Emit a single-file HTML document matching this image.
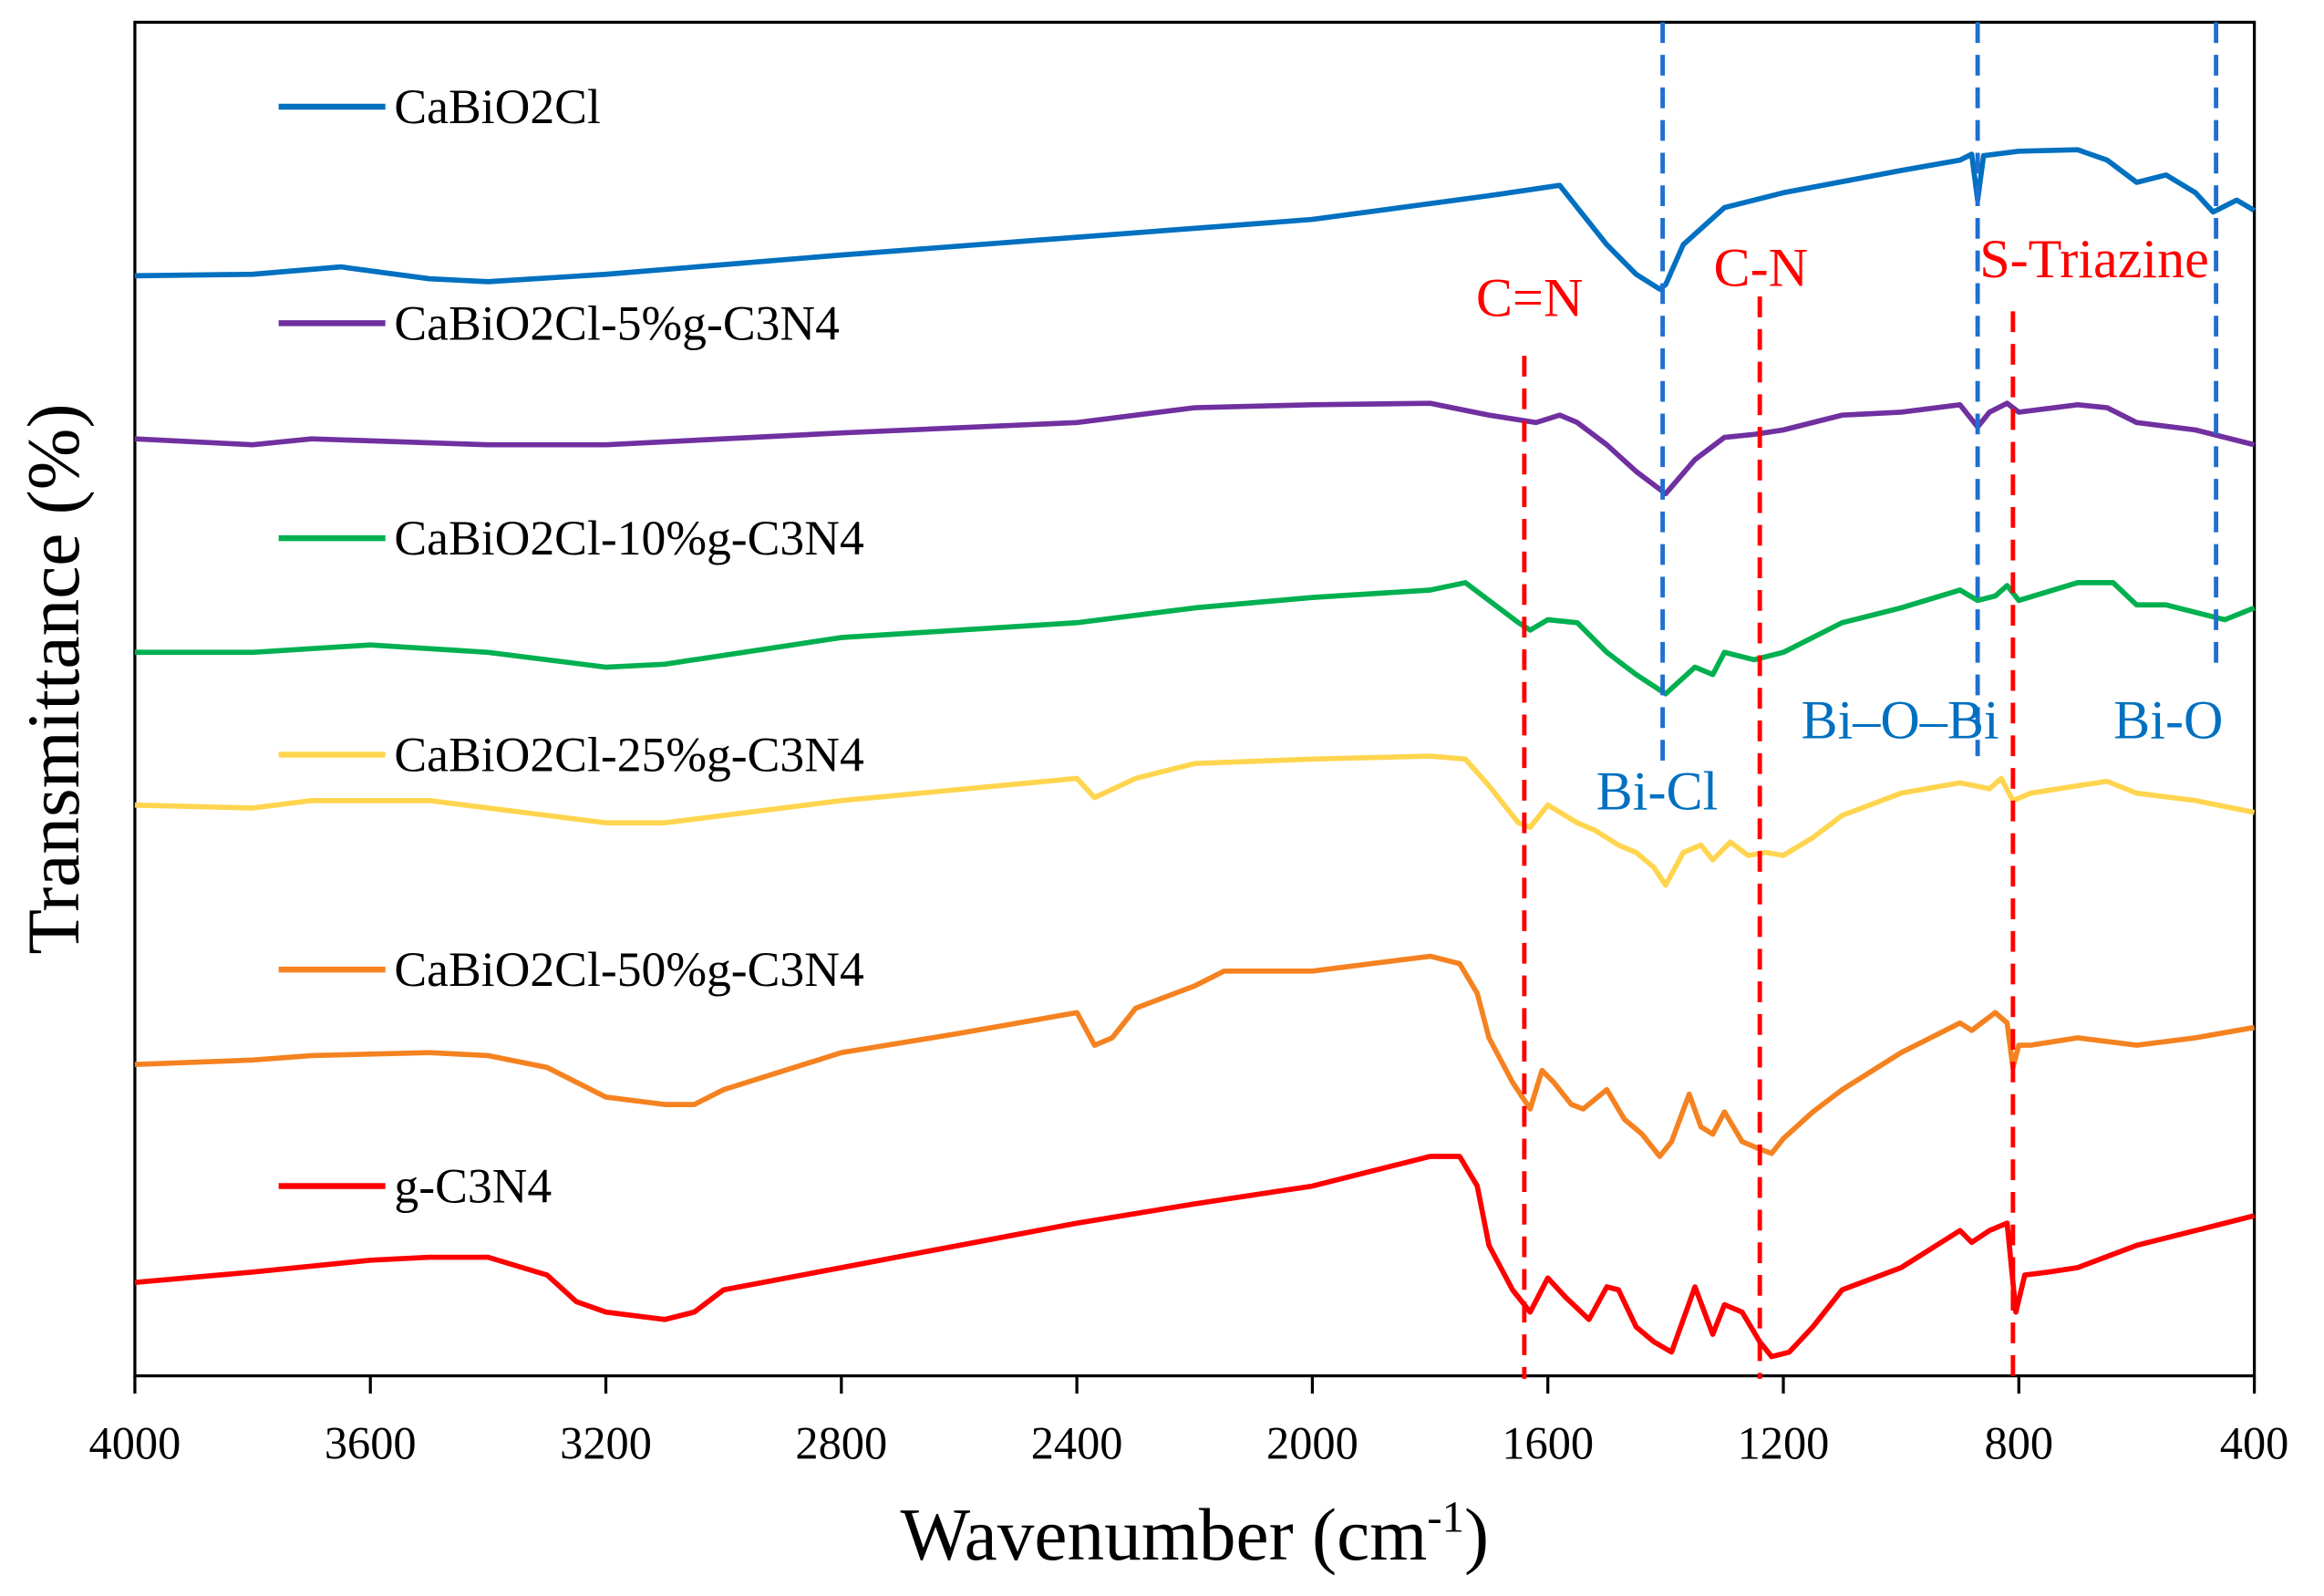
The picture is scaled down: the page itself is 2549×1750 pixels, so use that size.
<!DOCTYPE html>
<html><head><meta charset="utf-8"><style>
html,body{margin:0;padding:0;background:#fff;}
svg{display:block;font-family:"Liberation Serif",serif;}
</style></head><body>
<svg id="chart" width="2549" height="1750" viewBox="0 0 1568 1076.5" preserveAspectRatio="none" xmlns="http://www.w3.org/2000/svg">
<rect x="91" y="15" width="1430" height="913" fill="none" stroke="#000" stroke-width="2"/>
<g id="ticks"></g>
<g id="series"></g>
<g id="refs"></g>
<g id="legend"></g>
<text x="806" y="1052" font-size="50" text-anchor="middle">Wavenumber (cm<tspan font-size="30" dy="-19">-1</tspan><tspan dy="19">)</tspan></text>
<text x="0" y="0" font-size="50" text-anchor="middle" transform="translate(53,458) rotate(-90)">Transmittance (%)</text>
</svg>
<script>
const ticks=[4000,3600,3200,2800,2400,2000,1600,1200,800,400];
const names=["CaBiO2Cl","CaBiO2Cl-5%g-C3N4","CaBiO2Cl-10%g-C3N4","CaBiO2Cl-25%g-C3N4","CaBiO2Cl-50%g-C3N4","g-C3N4"];
const colors=["#0070c0","#7030a0","#00b050","#ffd54f","#f58220","#ff0000"];
const wnBlue=[4000,3800,3650,3500,3400,3200,2800,2400,2000,1700,1580,1550,1500,1450,1410,1400,1370,1300,1200,1000,900,880,870,860,800,700,650,600,550,500,470,430,400];
const yBlue=[186,185,180,188,190,185,172,160,148,132,125,140,165,185,195,192,165,140,130,115,108,104,135,105,102,101,108,123,118,130,143,135,142];
const wnPurple=[4000,3800,3700,3400,3200,2800,2400,2200,2000,1800,1700,1620,1580,1550,1500,1450,1400,1350,1300,1250,1200,1100,1000,900,870,850,820,800,700,650,600,500,400];
const yPurple=[296,300,296,300,300,292,285,275,273,272,280,285,280,285,300,318,333,310,295,293,290,280,278,273,288,278,272,278,273,275,285,290,300];
const wnGreen=[4000,3800,3600,3400,3200,3100,2800,2400,2200,2000,1800,1740,1700,1650,1630,1600,1550,1500,1450,1400,1350,1320,1300,1250,1200,1100,1000,900,870,840,820,800,700,640,600,550,450,400];
const yGreen=[440,440,435,440,450,448,430,420,410,403,398,393,405,420,425,418,420,440,455,468,450,455,440,445,440,420,410,398,405,402,395,405,393,393,408,408,418,410];
const wnYellow=[4000,3800,3700,3500,3300,3200,3100,2800,2400,2370,2300,2200,2000,1800,1740,1700,1650,1630,1600,1550,1520,1480,1450,1420,1400,1370,1340,1320,1290,1260,1230,1200,1150,1100,1000,900,850,830,810,780,700,650,600,500,400];
const yYellow=[543,545,540,540,550,555,555,540,525,538,525,515,512,510,512,530,555,558,543,555,560,570,575,585,597,575,570,580,568,577,575,577,565,550,535,528,532,525,540,535,530,527,535,540,548];
const wnOrange=[4000,3800,3700,3500,3400,3300,3200,3100,3050,3000,2800,2600,2400,2370,2340,2300,2200,2150,2000,1800,1750,1720,1700,1660,1630,1610,1590,1560,1540,1500,1470,1440,1410,1390,1360,1340,1320,1300,1270,1240,1220,1200,1150,1100,1000,900,880,840,820,810,800,780,700,600,500,400];
const yOrange=[718,715,712,710,712,720,740,745,745,735,710,697,683,705,700,680,665,655,655,645,650,670,700,730,748,722,730,745,748,735,755,765,780,770,738,760,765,750,770,775,778,768,750,735,710,690,695,683,690,720,705,705,700,705,700,693];
const wnRed=[4000,3800,3600,3500,3400,3300,3250,3200,3100,3050,3000,2800,2600,2400,2200,2000,1800,1750,1720,1700,1660,1630,1600,1570,1530,1500,1480,1450,1420,1390,1350,1320,1300,1270,1240,1220,1190,1150,1100,1000,900,880,850,820,805,790,750,700,600,500,400];
const yRed=[865,858,850,848,848,860,878,885,890,885,870,855,840,825,812,800,780,780,800,840,870,885,862,875,890,868,870,895,905,912,868,900,880,885,905,915,912,895,870,855,830,838,830,825,885,860,858,855,840,830,820];
const wnSets=[wnBlue,wnPurple,wnGreen,wnYellow,wnOrange,wnRed];
const ySets=[yBlue,yPurple,yGreen,yYellow,yOrange,yRed];
const legendY=[72,218,363,509,654,800];
const redRefs=[1640,1240,810];
const blueRefs=[1405,870,465];
const refLabels=["C=N","C-N","S-Triazine","Bi-Cl","Bi–O–Bi","Bi-O"];

const NS="http://www.w3.org/2000/svg";
function X(w){return 91+(4000-w)*1430/3600;}
function mk(t,a,p){const e=document.createElementNS(NS,t);for(const k in a)e.setAttribute(k,a[k]);p.appendChild(e);return e;}
const gT=document.getElementById('ticks');
ticks.forEach(t=>{
 const l=mk('line',{x1:X(t),x2:X(t),y1:928,y2:940,stroke:'#000','stroke-width':2},gT);
 
 
 const tx=mk('text',{x:X(t),y:984,'font-size':31,'text-anchor':'middle'},gT);
 
 
 tx.textContent=t;
});
const gS=document.getElementById('series');
wnSets.forEach((ws,i)=>{
 const d=ws.map((w,j)=>(j?'L':'M')+X(w).toFixed(1)+' '+ySets[i][j]).join(' ');
 const p=mk('path',{d:d,fill:'none',stroke:colors[i],'stroke-width':3.5,'stroke-linejoin':'round'},gS);
 
 
});
const gR=document.getElementById('refs');
const redTop=[240,200,210];
redRefs.forEach((w,i)=>{
 const l=mk('line',{x1:X(w),x2:X(w),y1:redTop[i],y2:930,stroke:'#ff0000','stroke-width':3,'stroke-dasharray':'14 8'},gR);
 
 
});
const blueBot=[515,510,455];
blueRefs.forEach((w,i)=>{
 const l=mk('line',{x1:X(w),x2:X(w),y1:15,y2:blueBot[i],stroke:'#1f6fd0','stroke-width':3,'stroke-dasharray':'14 8'},gR);
 
 
});
const lp=[[1032,213,'#ff0000'],[1188,193,'#ff0000'],[1413,187,'#ff0000'],[1118,546,'#0070c0'],[1282,498,'#0070c0'],[1463,498,'#0070c0']];
refLabels.forEach((s,i)=>{
 const t=mk('text',{x:lp[i][0],y:lp[i][1],'font-size':37,'text-anchor':'middle',fill:lp[i][2]},gR);
 
 
 t.textContent=s;
});
const gL=document.getElementById('legend');
names.forEach((n,i)=>{
 const l=mk('line',{x1:188,x2:260,y1:legendY[i],y2:legendY[i],stroke:colors[i],'stroke-width':4},gL);
 
 
 const t=mk('text',{x:266,y:legendY[i]+11,'font-size':33},gL);
 
 
 t.textContent=n;
});
</script>
</body></html>
